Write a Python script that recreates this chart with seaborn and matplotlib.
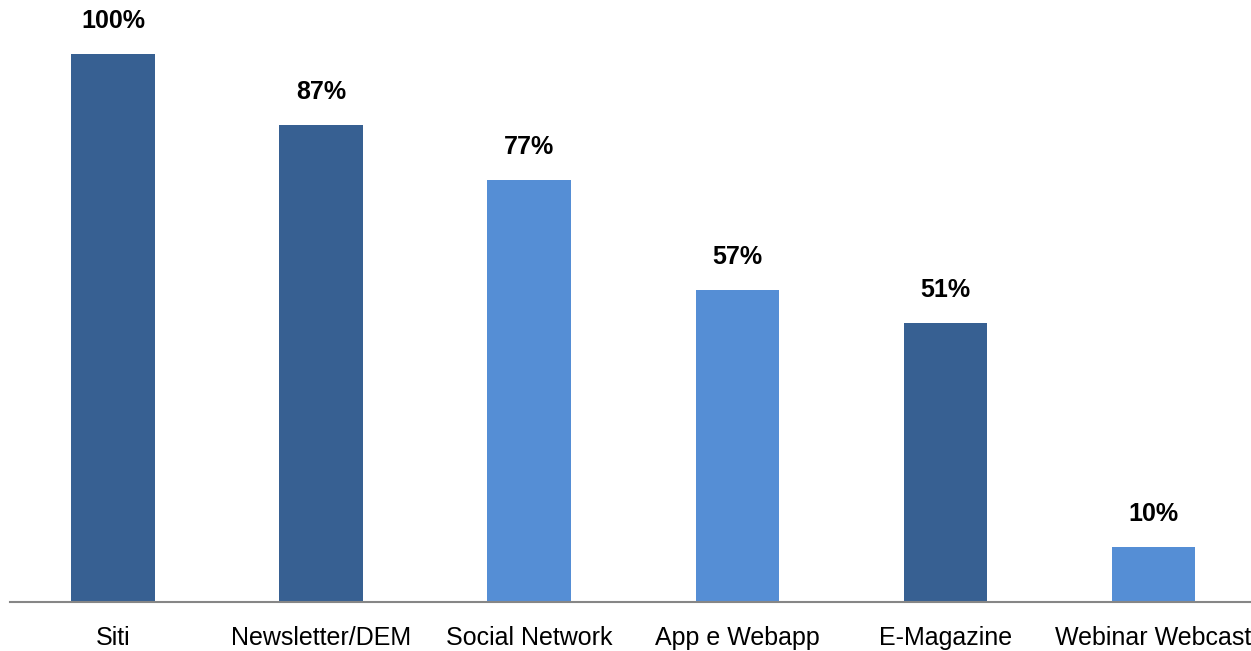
import matplotlib
matplotlib.use("Agg")
import matplotlib.pyplot as plt
import seaborn as sns
import pandas as pd

categories = ["Siti", "Newsletter/DEM", "Social Network", "App e Webapp", "E-Magazine", "Webinar Webcast"]
values = [100, 87, 77, 57, 51, 10]
bar_colors = ["#376092", "#376092", "#558ED5", "#558ED5", "#376092", "#558ED5"]

df = pd.DataFrame({"canale": categories, "pct": values})

sns.set_style("white")
plt.rcParams["font.family"] = ["Liberation Sans", "DejaVu Sans"]

fig = plt.figure(figsize=(12.51, 6.51), dpi=100)
ax = fig.add_axes([10 / 1251, 49 / 651, 1241 / 1251, 548 / 651])

sns.barplot(data=df, x="canale", y="pct", hue="canale", palette=bar_colors,
            width=0.4, legend=False, saturation=1, linewidth=0, ax=ax)

for i, v in enumerate(values):
    ax.annotate(f"{v}%", (i, v), xytext=(0, 15), textcoords="offset points",
                ha="center", va="bottom", fontsize=18, fontweight="bold",
                color="#000000", annotation_clip=False)

ax.set_xlim(-0.495, 5.47)
ax.set_ylim(0, 100)
ax.set_xlabel("")
ax.set_ylabel("")
ax.set_yticks([])
for s in ["top", "right", "left"]:
    ax.spines[s].set_visible(False)
ax.spines["bottom"].set_color("#868686")
ax.spines["bottom"].set_linewidth(1.5)
ax.tick_params(axis="x", length=0, pad=17, labelsize=18, colors="#000000")

fig.savefig("out.png", dpi=100)
